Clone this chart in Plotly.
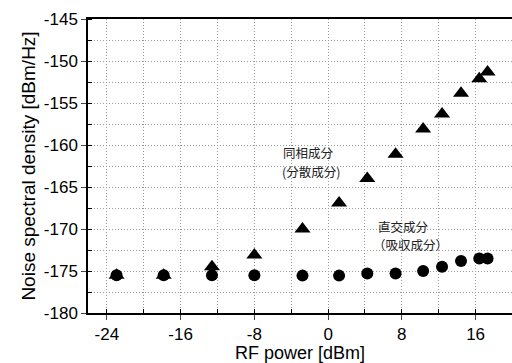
import plotly.graph_objects as go

rf_power = [-22.95, -17.84, -12.6, -8.0, -2.78, 1.19, 4.25, 7.32, 10.31, 12.36, 14.42, 16.4, 17.3]
in_phase = [-175.5, -175.5, -174.5, -173.1, -170.0, -166.9, -164.0, -161.1, -158.1, -156.3, -153.85, -152.1, -151.3]
quadrature = [-175.5, -175.5, -175.5, -175.5, -175.55, -175.55, -175.3, -175.3, -175.0, -174.5, -173.8, -173.5, -173.5]

x_ticks = [-24, -16, -8, 0, 8, 16]
x_tick_labels = ["-24", "-16", "-8", "0", "8", "16"]
y_ticks = [-180, -175, -170, -165, -160, -155, -150, -145]
y_tick_labels = ["-180", "-175", "-170", "-165", "-160", "-155", "-150", "-145"]

label_texts = ["同相成分", "(分散成分)", "直交成分", "（吸収成分）"]

fig = go.Figure()
fig.add_trace(go.Scatter(x=rf_power, y=quadrature, mode="markers",
                         marker=dict(symbol="circle", size=12, color="black"), showlegend=False))
fig.add_trace(go.Scatter(x=rf_power, y=in_phase, mode="markers",
                         marker=dict(symbol="triangle-up", size=14, color="black"), showlegend=False))

cjk = "Noto Sans CJK JP"
label_pos = [(-5.15, -160.95), (-5.2, -163.15), (5.2, -169.65), (4.6, -171.85)]
for txt, (lx, ly) in zip(label_texts, label_pos):
    fig.add_annotation(x=lx, y=ly, text=txt, showarrow=False,
                       xanchor="left", yanchor="middle", align="left",
                       font=dict(family=cjk, size=12.5, color="#222"))

gdash = "1px,2px"
grid = dict(showgrid=True, gridcolor="#999", griddash=gdash, gridwidth=1)
fig.update_xaxes(range=[-26.05, 19.95], tickmode="array", tickvals=x_ticks, ticktext=x_tick_labels,
                 ticks="outside", ticklen=5,
                 showline=True, linecolor="black", linewidth=1.5, mirror=True,
                 zeroline=False, **grid,
                 minor=dict(dtick=4, tick0=0, ticks="inside", ticklen=4, showgrid=True,
                            gridcolor="#999", griddash=gdash, tickcolor="black"),
                 title=dict(text="RF power [dBm]", standoff=0, font=dict(size=18)),
                 tickfont=dict(size=17))
fig.update_yaxes(range=[-180, -145], tickmode="array", tickvals=y_ticks, ticktext=y_tick_labels,
                 ticks="outside", ticklen=5,
                 showline=True, linecolor="black", linewidth=1.5, mirror=False,
                 zeroline=False, **grid,
                 minor=dict(dtick=2.5, tick0=-180, ticks="inside", ticklen=4, showgrid=True,
                            gridcolor="#999", griddash=gdash, tickcolor="black"),
                 title=dict(text="Noise spectral density [dBm/Hz]", standoff=3, font=dict(size=19)),
                 tickfont=dict(size=17))

fig.update_layout(width=512, height=363, margin=dict(l=88, r=0, t=19, b=50),
                  plot_bgcolor="white", paper_bgcolor="white",
                  font=dict(family="Liberation Sans, Arial", color="black"))
fig.write_html("out.html", config={"displayModeBar": False},
               post_script="document.body.style.margin='0';document.body.style.overflow='hidden';")
